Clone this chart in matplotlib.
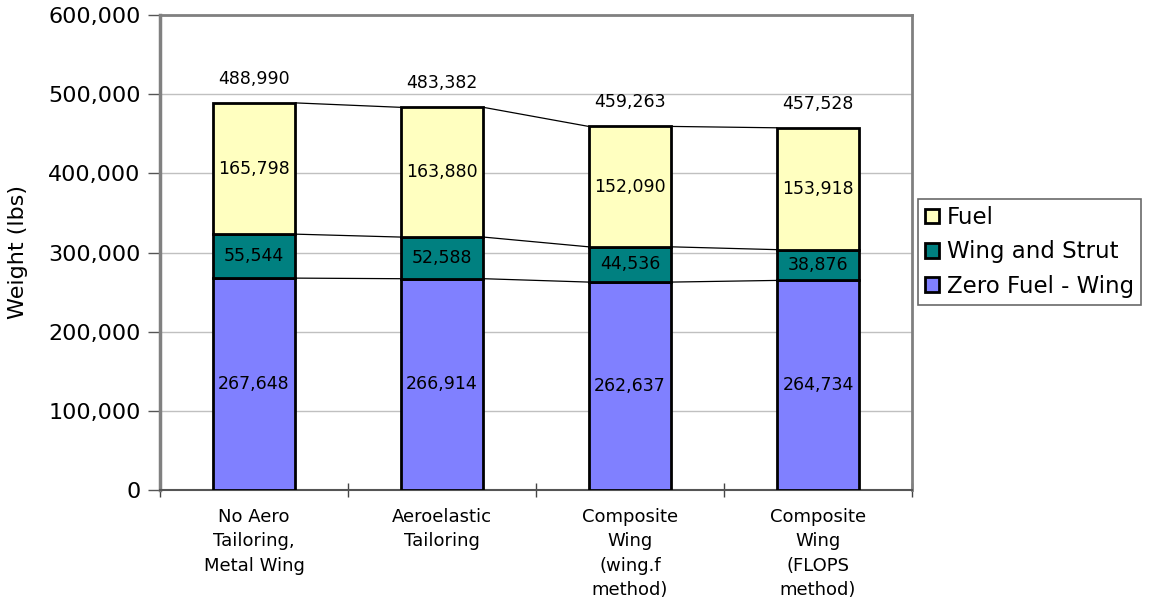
import matplotlib.pyplot as plt
import numpy as np

# Weight breakdown per configuration (lbs)
configs = ['No Aero\nTailoring,\nMetal Wing', 'Aeroelastic\nTailoring',
           'Composite\nWing\n(wing.f\nmethod)', 'Composite\nWing\n(FLOPS\nmethod)']
zero_fuel = [267648, 266914, 262637, 264734]
wing_strut = [55544, 52588, 44536, 38876]
fuel = [165798, 163880, 152090, 153918]
totals = [488990, 483382, 459263, 457528]

plt.rcParams['font.family'] = 'DejaVu Sans'

fig = plt.figure(figsize=(11.52, 6.03), dpi=100)
ax = fig.add_axes([0.1389, 0.1874, 0.6528, 0.7877])

x = np.arange(len(configs))
w = 0.44
series = [('Zero Fuel - Wing', zero_fuel, '#8080ff'),
          ('Wing and Strut', wing_strut, '#008080'),
          ('Fuel', fuel, '#ffffc0')]

bottom = np.zeros(len(configs))
handles = []
for name, vals, col in series:
    vals = np.array(vals)
    b = ax.bar(x, vals, w, bottom=bottom, color=col, edgecolor='black',
               linewidth=2, label=name, zorder=3)
    handles.append(b)
    for xi, v, b0 in zip(x, vals, bottom):
        ax.text(xi, b0 + v / 2, f'{v:,}', ha='center', va='center',
                fontsize=12.5, color='black', zorder=4)
    top = bottom + vals
    # series lines between neighbouring bars
    for i in range(len(x) - 1):
        ax.plot([x[i] + w / 2, x[i + 1] - w / 2], [top[i], top[i + 1]],
                color='black', linewidth=0.9, zorder=2)
    bottom = top

for xi, t in zip(x, totals):
    ax.text(xi, t + 19000, f'{t:,}', ha='center', va='bottom', fontsize=12.5)

ax.set_xlim(-0.5, 3.5)
ax.set_ylim(0, 600000)
ax.set_yticks(np.arange(0, 600001, 100000))
ax.yaxis.set_major_formatter(plt.FuncFormatter(lambda v, p: f'{int(v):,}'))
ax.tick_params(axis='y', labelsize=16, direction='out', length=9, width=1,
               color='#555555', pad=5)
ax.set_xticks(x)
ax.set_xticklabels(configs, fontsize=13, linespacing=1.45)
ax.tick_params(axis='x', length=0, pad=13)
ax.set_xticks(np.arange(-0.5, 4, 1), minor=True)
ax.tick_params(axis='x', which='minor', direction='inout', length=10,
               width=1, color='#444444')

ax.grid(axis='y', color='#c0c0c0', linewidth=1, zorder=0)
ax.set_axisbelow(True)
ax.spines['left'].set_color('#808080')
ax.spines['left'].set_linewidth(2.5)
ax.spines['top'].set_color('#808080')
ax.spines['top'].set_linewidth(2)
ax.spines['right'].set_color('#808080')
ax.spines['right'].set_linewidth(2)
ax.spines['bottom'].set_color('#555555')
ax.spines['bottom'].set_linewidth(1.5)

fig.text(0.016, 0.582, 'Weight (lbs)', rotation=90, ha='center', va='center',
         fontsize=16)

leg = fig.legend(handles[::-1], [s[0] for s in series][::-1],
                 loc='upper left', bbox_to_anchor=(0.797, 0.67),
                 fontsize=16.5, frameon=True, fancybox=False,
                 handlelength=0.6, handleheight=0.6, handletextpad=0.35,
                 borderpad=0.3, labelspacing=0.5, borderaxespad=0)
leg.get_frame().set_edgecolor('#444444')
leg.get_frame().set_linewidth(1.2)

fig.savefig('out.png', dpi=100)
